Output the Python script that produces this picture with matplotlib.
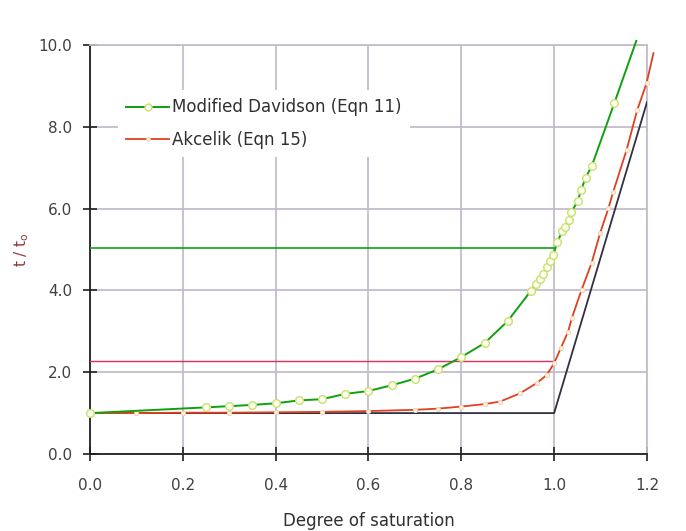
import numpy as np
import matplotlib
matplotlib.use("Agg")
import matplotlib.pyplot as plt

plt.rcParams['font.family'] = ['DejaVu Sans']

# Modified Davidson (Eqn 11)
dav_x = [0.0, 0.25, 0.30, 0.35, 0.40, 0.45, 0.50, 0.55, 0.60, 0.65, 0.70, 0.75,
         0.80, 0.85, 0.90, 0.95, 0.96, 0.97, 0.977, 0.985, 0.991, 0.998, 1.007,
         1.017, 1.023, 1.032, 1.037, 1.051, 1.058, 1.068, 1.081, 1.13, 1.177]
dav_y = [1.00, 1.14, 1.17, 1.20, 1.24, 1.31, 1.34, 1.47, 1.54, 1.68, 1.84, 2.07,
         2.37, 2.71, 3.25, 3.99, 4.16, 4.29, 4.41, 4.57, 4.73, 4.87, 5.18,
         5.44, 5.56, 5.72, 5.91, 6.19, 6.45, 6.76, 7.04, 8.59, 10.1]

# Akcelik (Eqn 15)
akc_x = [0.0, 0.1, 0.2, 0.3, 0.4, 0.5, 0.6, 0.7, 0.75, 0.8, 0.85, 0.883, 0.926,
         0.962, 0.984, 1.0, 1.014, 1.03, 1.038, 1.059, 1.081, 1.099, 1.117,
         1.127, 1.156, 1.179, 1.199, 1.214]
akc_y = [1.0, 1.0, 1.01, 1.01, 1.02, 1.03, 1.05, 1.08, 1.11, 1.16, 1.22, 1.28, 1.48,
         1.73, 1.93, 2.22, 2.58, 2.99, 3.32, 4.01, 4.68, 5.40, 6.01,
         6.40, 7.43, 8.41, 9.06, 9.8]

# deterministic delay
det_x = [0.0, 1.0, 1.2]
det_y = [1.0, 1.0, 8.6]

# reference levels at x = 1
dav_level = 5.04
akc_level = 2.28

grid_c = '#c4bccc'
green = '#10a010'
red = '#e04020'

fig = plt.figure(figsize=(6.86, 5.31), dpi=100)
ax = fig.add_axes([0.1312, 0.145, 0.8119, 0.7703])

ax.plot([0, 1.0], [dav_level, dav_level], color=green, lw=1.2, zorder=3)
ax.plot([0, 1.0], [akc_level, akc_level], color='#e03060', lw=1.0, zorder=3)

ax.plot(det_x, det_y, color='#303040', lw=1.3, zorder=4)
ax.plot(akc_x, akc_y, color=red, lw=1.3, marker='o', ms=3,
        mfc='#fff4e0', mec='#f0d0b0', mew=0.7, clip_on=False, zorder=5,
        markevery=list(range(len(akc_x) - 1)),
        label='Akcelik (Eqn 15)')
ax.plot(dav_x, dav_y, color=green, lw=1.4, marker='o', ms=5.5,
        mfc='#fffff0', mec='#c8e070', mew=1.0, clip_on=False, zorder=6,
        markevery=list(range(len(dav_x) - 1)),
        label='Modified Davidson (Eqn 11)')

ax.set_xlim(0, 1.2)
ax.set_ylim(0, 10)
ax.set_xticks(np.arange(0, 1.21, 0.2))
ax.set_yticks(np.arange(0, 10.1, 2))
ax.set_xticklabels([f'{v:.1f}' for v in np.arange(0, 1.21, 0.2)])
ax.set_yticklabels([f'{v:.1f}' for v in np.arange(0, 10.1, 2)])
ax.grid(True, color=grid_c, lw=1.3, zorder=0)
ax.set_axisbelow(True)
for s in ['top', 'right']:
    ax.spines[s].set_color(grid_c)
    ax.spines[s].set_linewidth(1.3)
for s in ['left', 'bottom']:
    ax.spines[s].set_color('#202020')
    ax.spines[s].set_linewidth(1.3)
ax.tick_params(direction='inout', length=10, width=1.2, color='#202020',
               labelsize=11, labelcolor='#404040')
ax.tick_params(axis='x', pad=12)
ax.tick_params(axis='y', pad=8)

ax.set_xlabel('Degree of saturation', fontsize=12, color='#303030', labelpad=14)
ax.set_ylabel(r't / t$_\mathregular{o}$', fontsize=11, color='#8b3a3a', labelpad=5)

h, l = ax.get_legend_handles_labels()
leg = ax.legend(h[::-1], l[::-1], loc='upper left', bbox_to_anchor=(0.035, 0.91),
                frameon=True, fancybox=False, framealpha=1, edgecolor='none',
                fontsize=12, handlelength=2.6, handletextpad=0.15,
                labelspacing=0.85, borderpad=0.5, markerscale=0.9)
for t in leg.get_texts():
    t.set_color('#303030')

fig.savefig('out.png', dpi=100)
